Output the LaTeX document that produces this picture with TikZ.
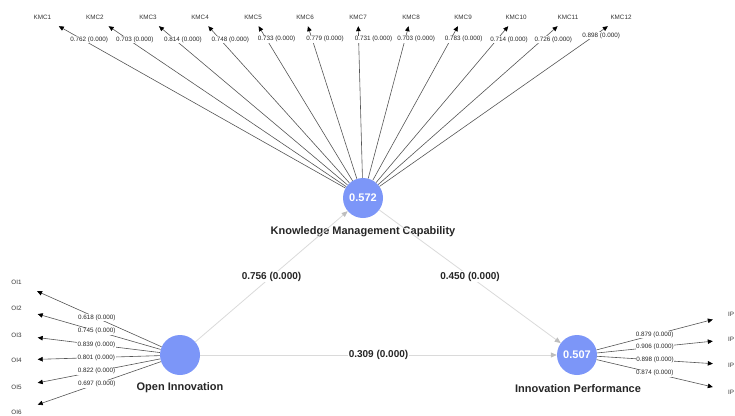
\documentclass[tikz,border=0pt]{standalone}
\usepackage{fontspec}
\setmainfont{Liberation Sans}
\usetikzlibrary{arrows.meta}
\definecolor{lvfill}{RGB}{124,150,248}
\definecolor{pathgray}{RGB}{218,218,218}
\definecolor{pathtip}{RGB}{190,190,190}
\definecolor{loadline}{RGB}{85,85,85}
\begin{document}
\begin{tikzpicture}[x=1pt,y=-1pt,
  latent/.style={circle, fill=lvfill, minimum size=40pt, inner sep=0pt,
    text=white, font=\fontsize{11}{11}\selectfont\bfseries},
  conname/.style={font=\fontsize{11}{13}\selectfont\bfseries, text=black!85},
  indicator/.style={minimum width=42pt, minimum height=18pt, inner sep=0pt,
    font=\fontsize{6.3}{7}\selectfont, text=black!80},
  loading/.style={draw=loadline, line width=0.6pt,
    -{Triangle[length=5pt,width=4.5pt,color=black]}},
  loadlab/.style={fill=white, inner sep=0.6pt,
    font=\fontsize{6.3}{7}\selectfont, text=black!85},
  structural/.style={draw=pathgray, line width=0.8pt,
    -{Triangle[length=6pt,width=5pt,color=pathtip]}},
  pathlab/.style={fill=white, inner sep=1pt,
    font=\fontsize{10}{12}\selectfont\bfseries, text=black!85}
]
\useasboundingbox (0,0) rectangle (735,415);

% latent variables
\node[latent] (kmc) at (363,198) {0.572};
\node[latent] (oi)  at (180,355) {};
\node[latent] (ip)  at (577,355) {0.507};

\node[conname] (kmcname) at (363,232) {Knowledge Management Capability};
\node[conname] (oiname)  at (180,388) {Open Innovation};
\node[conname] (ipname)  at (578,389) {Innovation Performance};

% structural paths
\draw[structural] (oi) -- (kmc) node[pathlab,pos=0.5] {0.756 (0.000)};
\draw[structural] (kmc) -- (ip) node[pathlab,pos=0.5] {0.450 (0.000)};
\draw[structural] (oi) -- (ip) node[pathlab,pos=0.5] {0.309 (0.000)};

% knowledge management capability indicators
\foreach \i/\x/\ld/\p/\s in {1/42.5/0.762/0.915/6, 2/95/0.703/0.915/6,
    3/148/0.814/0.915/8, 4/200/0.748/0.915/10, 5/253/0.733/0.915/10,
    6/305/0.779/0.915/13, 7/358/0.731/0.915/15, 8/411/0.703/0.915/11,
    9/463/0.783/0.915/13, 10/516/0.714/0.915/12, 11/568/0.726/0.915/11,
    12/621/0.898/0.94/7} {
  \node[indicator] (kmc\i) at (\x,17) {KMC\i};
  \draw[loading] (kmc) -- (kmc\i) node[loadlab,pos=\p,xshift=\s pt] {\ld\ (0.000)};
}

% open innovation indicators
\foreach \i/\y/\ld in {1/282/0.618, 2/308/0.745, 3/335/0.839,
    4/360/0.801, 5/387/0.822, 6/412/0.697} {
  \node[indicator] (oi\i) at (16.5,\y) {OI\i};
  \draw[loading] (oi) -- (oi\i) node[loadlab,pos=0.52] {\ld\ (0.000)};
}

% innovation performance indicators, names set flush against the right edge
\foreach \i/\y/\ld in {1/314/0.879, 2/339/0.906, 3/365/0.898, 4/392/0.874} {
  \node[indicator] (ip\i) at (734,\y) {\llap{IP}};
  \draw[loading] (ip) -- (ip\i) node[loadlab,pos=0.5] {\ld\ (0.000)};
}
\end{tikzpicture}
\end{document}
